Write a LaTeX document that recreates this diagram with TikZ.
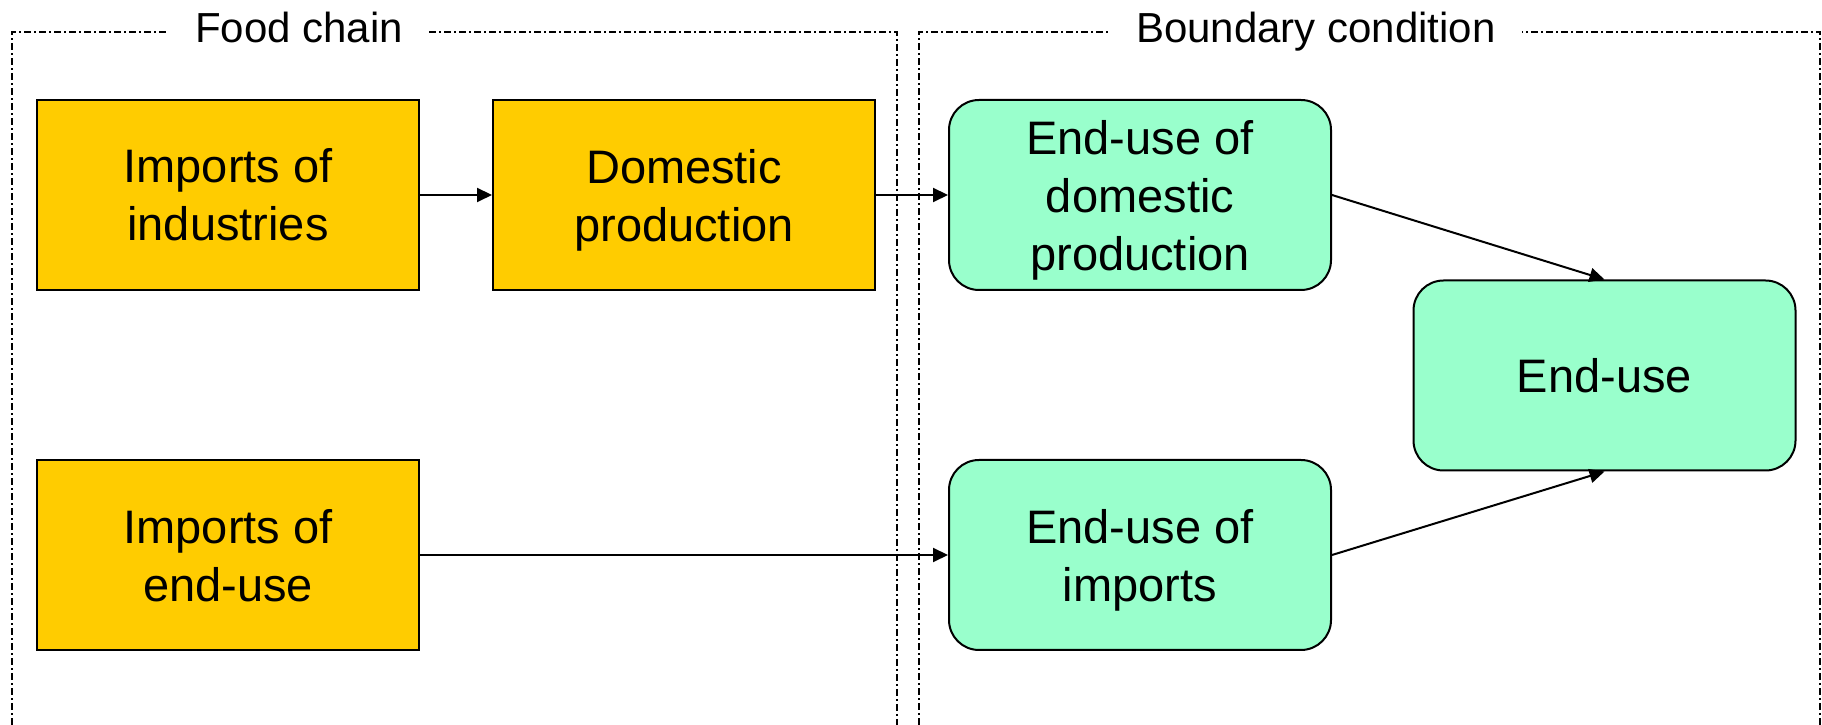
\documentclass[tikz,border=0pt]{standalone}
\usepackage{fontspec}
\setmainfont{Liberation Sans}
\usetikzlibrary{positioning,arrows.meta}
\definecolor{foodyellow}{HTML}{FFCC00}
\definecolor{usegreen}{HTML}{99FFCC}

\begin{document}
\begin{tikzpicture}[
x=1pt, y=1pt,
foodbox/.style={rectangle, draw=black, fill=foodyellow, line width=2pt, minimum width=382pt, minimum height=190pt, inner sep=4pt, align=center, text depth=-7pt, font=\fontsize{47}{58}\selectfont},
usebox/.style={foodbox, fill=usegreen, rounded corners=30pt},
framebox/.style={line width=1.5pt, dash pattern=on 7pt off 3pt on 2pt off 3pt},
framelabel/.style={fill=white, inner xsep=26pt, inner ysep=2pt, anchor=base, font=\fontsize{42}{50}\selectfont},
flow/.style={line width=2pt, -{Triangle[length=15pt, width=14pt]}},
node distance=168pt and 72pt,
]
\useasboundingbox (0,0) rectangle (1822,725);

%Frames
\draw[framebox] (12,0) -- (12,693) -- (897,693) -- (897,0);
\draw[framebox] (919,0) -- (919,693) -- (1820,693) -- (1820,0);
\node[framelabel] (foodlabel)  at (299,682)  {Food chain};
\node[framelabel] (boundlabel) at (1316,682) {Boundary condition};

%Nodes
\node[foodbox] (indimports)                       at (228,530) {Imports of\\industries};
\node[foodbox] (domprod)    [right=of indimports]              {Domestic\\production};
\node[usebox]  (enddom)     [right=of domprod]                 {End-use of\\domestic\\production};
\node[foodbox] (useimports) [below=of indimports]              {Imports of\\end-use};
\node[usebox]  (endimp)     [below=of enddom]                  {End-use of\\imports};
\node[usebox]  (enduse)                           at (1604.5,349.5) {End-use};

%Lines
\draw[flow] (indimports.east) -- (domprod.west);
\draw[flow] (domprod.east) -- (enddom.west);
\draw[flow] (useimports.east) -- (endimp.west);
\draw[flow] (enddom.east) -- (enduse.north);
\draw[flow] (endimp.east) -- (enduse.south);

\end{tikzpicture}
\end{document}
